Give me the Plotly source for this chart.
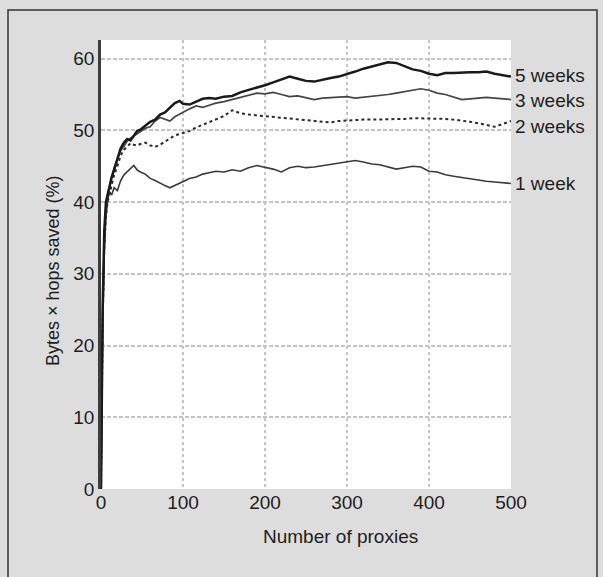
import plotly.graph_objects as go

proxies = [0, 2, 4, 6, 8, 10, 13, 16, 20, 24, 28, 32, 36, 40, 44, 48, 54, 60, 66, 72, 78, 84, 90, 96, 100,
           108, 116, 124, 132, 140, 150, 160, 170, 180, 190, 200, 210, 220, 230, 240, 250, 260, 270, 280,
           290, 300, 310, 320, 330, 340, 350, 360, 370, 380, 390, 400, 410, 420, 430, 440, 450, 460, 470,
           480, 490, 500]

week1 = [0, 22, 33, 38, 40, 41.5, 41, 42, 41.6, 43, 43.8, 44.2, 44.6, 45.1, 44.5, 44.2, 43.9, 43.3, 43, 42.6,
         42.3, 42, 42.3, 42.6, 42.9, 43.3, 43.5, 43.9, 44.1, 44.3, 44.2, 44.5, 44.3, 44.8, 45.1, 44.9, 44.6,
         44.2, 44.8, 45, 44.8, 44.9, 45.1, 45.3, 45.5, 45.6, 45.8, 45.6, 45.3, 45.2, 44.9, 44.6, 44.8, 45,
         44.9, 44.3, 44.2, 43.8, 43.6, 43.4, 43.2, 43, 42.9, 42.8, 42.7, 42.6]

week2 = [0, 23, 34, 38, 40, 41, 42.5, 43.8, 45, 46.5, 47.3, 47.8, 48.2, 48, 47.9, 48.1, 48.3, 47.9, 47.7, 48,
         48.4, 48.9, 49.3, 49.5, 49.6, 49.9, 50.4, 50.8, 51.2, 51.6, 52, 52.8, 52.4, 52.2, 52.1, 51.9, 51.8,
         51.7, 51.7, 51.5, 51.4, 51.3, 51.2, 51.1, 51.3, 51.4, 51.5, 51.5, 51.5, 51.5, 51.5, 51.6, 51.6,
         51.7, 51.7, 51.7, 51.6, 51.6, 51.5, 51.4, 51.2, 51, 50.7, 50.5, 50.9, 51.3]

week3 = [0, 24, 35, 39, 41, 42, 43.5, 44.8, 46, 47.2, 47.8, 48.5, 48.9, 49.2, 49.6, 49.9, 50.3, 50.5, 51.3,
         51.8, 51.5, 51.3, 51.9, 52.3, 52.5, 53, 53.4, 53.2, 53.5, 53.8, 54, 54.3, 54.6, 55, 55.2, 55.1, 55.3,
         55, 54.7, 54.8, 54.5, 54.3, 54.5, 54.6, 54.6, 54.7, 54.5, 54.6, 54.7, 54.8, 55, 55.2, 55.4, 55.5,
         55.8, 55.6, 55.2, 55, 54.6, 54.3, 54.4, 54.5, 54.6, 54.5, 54.4, 54.3]

week5 = [0, 25, 36, 40, 41, 42, 43.5, 44.5, 46, 47.5, 48.3, 48.8, 48.6, 49.3, 49.9, 50.1, 50.6, 51.2, 51.5,
         52.2, 52.5, 53.2, 53.8, 54.1, 53.7, 53.6, 54, 54.4, 54.5, 54.4, 54.7, 54.8, 55.3, 55.6, 55.9, 56.3,
         56.7, 57.1, 57.5, 57.2, 56.9, 56.8, 57.1, 57.3, 57.5, 57.8, 58.2, 58.6, 58.9, 59.2, 59.5, 59.4, 58.9,
         58.5, 58.3, 57.9, 57.7, 58, 58, 58.1, 58.1, 58.1, 58.2, 57.9, 57.7, 57.5]

series_labels = ["5 weeks", "3 weeks", "2 weeks", "1 week"]
label_y = [57.6, 54.2, 50.5, 42.6]

x_ticks = [0, 100, 200, 300, 400, 500]
y_ticks = [0, 10, 20, 30, 40, 50, 60]

FONT = "Liberation Sans, Arial, sans-serif"
TXT = "#1e1e1e"
FS = 19

fig = go.Figure()
fig.add_trace(go.Scatter(x=proxies, y=week1, mode="lines", line=dict(color="#3a3a3a", width=1.6), name="1 week"))
fig.add_trace(go.Scatter(x=proxies, y=week2, mode="lines", line=dict(color="#2a2a2a", width=2, dash="dot"), name="2 weeks"))
fig.add_trace(go.Scatter(x=proxies, y=week3, mode="lines", line=dict(color="#444444", width=1.7), name="3 weeks"))
fig.add_trace(go.Scatter(x=proxies, y=week5, mode="lines", line=dict(color="#1a1a1a", width=2.5), name="5 weeks"))

annotations = []
for lab, yy in zip(series_labels, label_y):
    annotations.append(dict(x=500, y=yy, xref="x", yref="y", text=lab, showarrow=False,
                            xanchor="left", yanchor="middle", xshift=2,
                            font=dict(family=FONT, size=FS, color=TXT)))
annotations.append(dict(x=291.5, y=-0.105, xref="x", yref="paper", text="Number of proxies",
                        showarrow=False, xanchor="center", yanchor="middle",
                        font=dict(family=FONT, size=FS, color=TXT)))
annotations.append(dict(x=-0.117, y=0.4855, xref="paper", yref="paper", text="Bytes × hops saved (%)",
                        showarrow=False, textangle=-90, xanchor="center", yanchor="middle",
                        font=dict(family=FONT, size=18, color=TXT)))

fig.update_layout(
    width=603, height=577,
    margin=dict(l=101, r=92, t=40, b=88),
    paper_bgcolor="#dddddd",
    plot_bgcolor="#ffffff",
    showlegend=False,
    font=dict(family=FONT, size=FS, color=TXT),
    annotations=annotations,
    shapes=[dict(type="rect", xref="paper", yref="paper",
                 x0=(8 - 101) / 410, x1=(597 - 101) / 410,
                 y0=-0.3, y1=(489 - 10) / 449,
                 line=dict(color="#333333", width=1.5), fillcolor="rgba(0,0,0,0)", layer="below")],
)
fig.update_xaxes(range=[0, 500], tickvals=x_ticks, showgrid=True, gridcolor="#c4c4c4", gridwidth=2,
                 griddash="dot", zeroline=False, showline=False, ticks="",
                 tickfont=dict(family=FONT, size=FS, color=TXT))
fig.update_yaxes(range=[0, 62.6], tickvals=y_ticks, showgrid=True, gridcolor="#c4c4c4", gridwidth=2,
                 griddash="4px,2px", zeroline=False, showline=True, linecolor="#3c3c3c", linewidth=2.5,
                 ticks="", tickfont=dict(family=FONT, size=FS, color=TXT))

fig.write_html("out.html")
